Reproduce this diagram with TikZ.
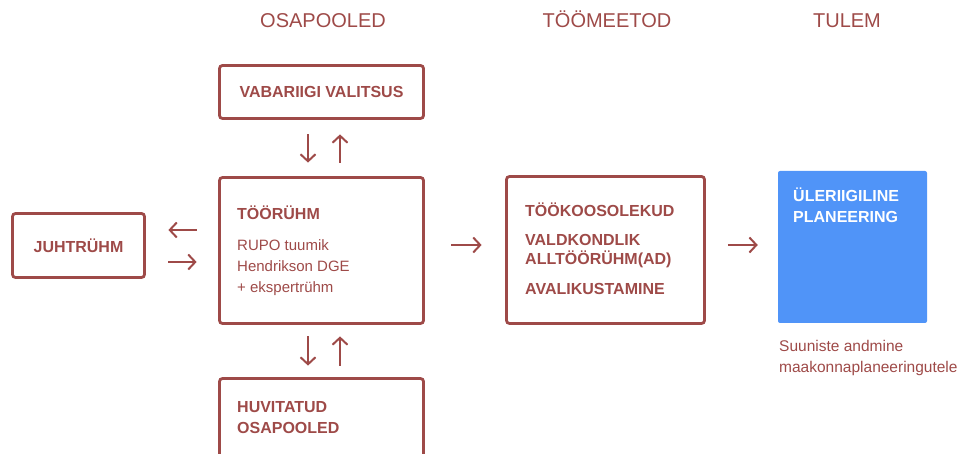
\documentclass[tikz,border=0pt]{standalone}
\usepackage{fontspec}
\setmainfont{Liberation Sans}
\usetikzlibrary{arrows.meta}
\definecolor{brick}{RGB}{158,74,72}
\definecolor{planblue}{RGB}{80,148,248}

\begin{document}
\begin{tikzpicture}[x=1pt, y=-1pt,
  box/.style={draw=brick, line width=2.8pt, rounded corners=3pt, inner sep=0pt, text=brick, font=\bfseries\fontsize{16}{21}\selectfont},
  colhead/.style={text=brick, inner sep=0pt, anchor=base, font=\fontsize{20}{24}\selectfont},
  boxtitle/.style={text=brick, inner sep=0pt, anchor=base west, align=left, font=\bfseries\fontsize{16}{21}\selectfont},
  boxtext/.style={text=brick, inner sep=0pt, anchor=base west, align=left, font=\fontsize{15}{21}\selectfont},
  flow/.style={draw=brick, line width=2pt, -{Straight Barb[length=7pt,width=15pt]}}]
  \useasboundingbox (0,0) rectangle (962,454);

  \node[colhead] (headOsa) at (323,28) {OSAPOOLED};
  \node[colhead] (headMeetod) at (607,28) {TÖÖMEETOD};
  \node[colhead] (headTulem) at (847,28) {TULEM};

  \node[box, minimum width=204pt, minimum height=53pt] (valitsus) at (321.5,92) {VABARIIGI VALITSUS};
  \node[box, minimum width=204pt, minimum height=146pt] (tooryhm) at (321.5,250.5) {};
  \node[box, minimum width=132pt, minimum height=64pt] (juht) at (78.5,245.5) {JUHTRÜHM};
  \node[box, minimum width=198pt, minimum height=147pt] (meetod) at (605.5,250) {};
  \node[fill=planblue, rounded corners=2pt, inner sep=0pt, minimum width=149pt, minimum height=152pt] (tulem) at (852.5,247) {};
  \node[box, minimum width=204pt, minimum height=110pt] (huvitatud) at (321.5,433.5) {};

  \node[boxtitle] (tooryhmTitle) at (237,220) {TÖÖRÜHM};
  \node[boxtext] (tooryhmText) at (237,293) {RUPO tuumik\\Hendrikson DGE\\+ ekspertrühm};
  \node[boxtitle, font=\bfseries\fontsize{16}{19.5}\selectfont] (meetodText) at (525,295)
    {TÖÖKOOSOLEKUD\\[9pt]VALDKONDLIK\\ALLTÖÖRÜHM(AD)\\[10.5pt]AVALIKUSTAMINE};
  \node[boxtitle, text=white] (tulemText) at (793,223) {ÜLERIIGILINE\\PLANEERING};
  \node[boxtext, font=\fontsize{15.5}{21}\selectfont] (tulemNote) at (779,373) {Suuniste andmine\\maakonnaplaneeringutele};
  \node[boxtitle] (huvitatudText) at (237,434) {HUVITATUD\\OSAPOOLED};

  \draw[flow, shorten <=14.5pt, shorten >=13.5pt] ([xshift=-13.5pt]valitsus.south) -- ([xshift=-13.5pt]tooryhm.north);
  \draw[flow, shorten <=13.5pt, shorten >=14.5pt] ([xshift=18.5pt]tooryhm.north) -- ([xshift=18.5pt]valitsus.south);
  \draw[flow, shorten <=11.5pt, shorten >=11.5pt] ([xshift=-13.5pt]tooryhm.south) -- ([xshift=-13.5pt]huvitatud.north);
  \draw[flow, shorten <=11.5pt, shorten >=11.5pt] ([xshift=18.5pt]huvitatud.north) -- ([xshift=18.5pt]tooryhm.south);
  \draw[flow, shorten <=21.5pt, shorten >=22.5pt] ([yshift=20.5pt]tooryhm.west) -- ([yshift=15.5pt]juht.east);
  \draw[flow, shorten <=22.5pt, shorten >=21.5pt] ([yshift=-16.5pt]juht.east) -- ([yshift=-11.5pt]tooryhm.west);
  \draw[flow, shorten <=26.5pt, shorten >=23.5pt] ([yshift=5.5pt]tooryhm.east) -- ([yshift=5pt]meetod.west);
  \draw[flow, shorten <=22pt, shorten >=20pt] ([yshift=5pt]meetod.east) -- ([yshift=2pt]tulem.west);
\end{tikzpicture}
\end{document}
